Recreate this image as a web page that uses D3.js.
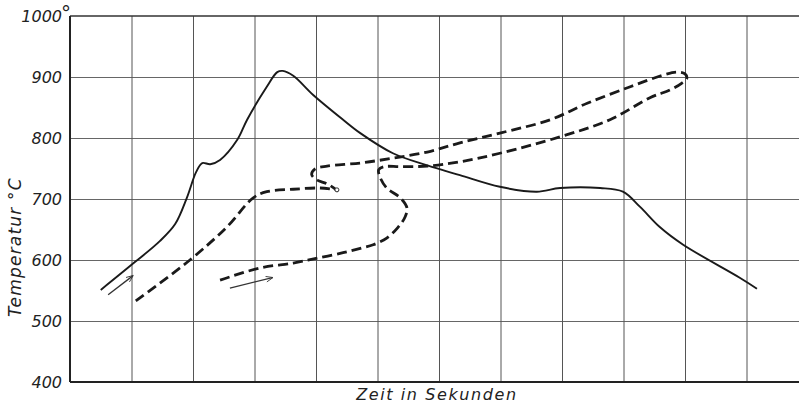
<!DOCTYPE html>
<html>
<head>
<meta charset="utf-8">
<script src="https://cdn.jsdelivr.net/npm/d3@7"></script>
<style>
  body { margin: 0; background: #fff; }
  text { font-family: "DejaVu Sans", sans-serif; font-style: italic; fill: #222; }
</style>
</head>
<body>
<div class="chart"></div>
<script>
// Temperatur-Zeit-Kurven (x in grid units, no labels on the time axis)

var yTicks = [400, 500, 600, 700, 800, 900, 1000];
var xTicks = [1, 2, 3, 4, 5, 6, 7, 8, 9, 10, 11];

// solid curve
var solidX = [0.50, 1.06, 1.46, 1.71, 1.90, 2.05, 2.15, 2.28, 2.44, 2.72, 2.88, 3.20, 3.37, 3.46, 3.63, 3.95, 4.44, 4.72, 5.25, 5.81, 6.34, 6.99, 7.59, 7.97, 8.62, 8.99, 9.27, 9.59, 9.97, 10.89, 11.17];
var solidT = [551, 597, 631, 659, 702, 744, 759, 757, 764, 797, 830, 884, 908, 910, 902, 871, 830, 808, 775, 755, 739, 720, 712, 718, 718, 712, 687, 654, 625, 571, 553];

// short dashed curve, ends in the small circle
var dashAX = [1.07, 1.95, 2.55, 2.98, 3.20, 3.63, 4.07, 4.34];
var dashAT = [533, 600, 654, 702, 712, 716, 718, 715];

// long dashed curve with the loop
var dashBX = [2.44, 3.09, 3.63, 4.02, 4.44, 4.75, 4.93, 5.15, 5.33, 5.45, 5.48, 5.37, 5.15, 5.04, 5.02, 5.11, 5.37, 5.81, 6.34, 6.99, 7.97, 8.78, 9.43, 9.76, 9.95, 10.03, 10.00, 9.87, 9.64, 9.11, 8.41, 7.81, 6.99, 6.34, 5.81, 5.25, 4.72, 4.18, 3.98, 3.93, 4.02, 4.18, 4.36];
var dashBT = [567, 587, 595, 603, 612, 620, 625, 636, 653, 671, 685, 702, 718, 736, 748, 753, 753, 754, 761, 775, 802, 830, 866, 879, 890, 898, 905, 908, 903, 884, 857, 830, 808, 792, 777, 767, 759, 754, 749, 740, 731, 725, 713];

// direction arrows [x1, T1, x2, T2]
var arrows = [[0.62, 543, 1.02, 574], [2.60, 554, 3.29, 571]];

var svgWidth = 799;
var svgHeight = 405;
var margin = { top: 16, left: 70 };
var cell = 61.5;
var plotH = 366;

var svg = d3.select(".chart")
  .append("svg")
  .attr("width", svgWidth)
  .attr("height", svgHeight);

var x = d3.scaleLinear().domain([0, 12]).range([margin.left, margin.left + 12 * cell]);
var y = d3.scaleLinear().domain([400, 1000]).range([margin.top + plotH, margin.top]);

// grid
svg.append("g")
  .attr("transform", "translate(" + margin.left + ",0)")
  .call(d3.axisLeft(y).tickValues(yTicks.slice(1, -1)).tickSize(-(svgWidth - margin.left)).tickFormat(""))
  .call(function(g) { g.select(".domain").remove(); })
  .selectAll("line").attr("stroke", "#666").attr("stroke-width", 1);

svg.append("g")
  .attr("transform", "translate(0," + (margin.top + plotH) + ")")
  .call(d3.axisBottom(x).tickValues(xTicks).tickSize(-plotH).tickFormat(""))
  .call(function(g) { g.select(".domain").remove(); })
  .selectAll("line").attr("stroke", "#555").attr("stroke-width", 1);

// frame
svg.append("line")
  .attr("x1", margin.left).attr("x2", svgWidth)
  .attr("y1", y(1000)).attr("y2", y(1000))
  .attr("stroke", "#333").attr("stroke-width", 1.5);
svg.append("line")
  .attr("x1", margin.left).attr("x2", svgWidth)
  .attr("y1", y(400)).attr("y2", y(400))
  .attr("stroke", "#222").attr("stroke-width", 2);
svg.append("line")
  .attr("x1", margin.left).attr("x2", margin.left)
  .attr("y1", y(1000)).attr("y2", y(400))
  .attr("stroke", "#222").attr("stroke-width", 2);

// tick labels
svg.selectAll(".ylab")
  .data(yTicks)
  .enter().append("text")
  .attr("class", "ylab")
  .attr("x", 62)
  .attr("y", function(d) { return y(d); })
  .attr("dy", "0.36em")
  .attr("text-anchor", "end")
  .attr("font-size", 16)
  .text(function(d) { return d; });

svg.append("text")
  .attr("x", 61)
  .attr("y", y(1000) + 4)
  .attr("font-size", 20)
  .attr("font-weight", "300")
  .text("°");

// axis titles
svg.append("text")
  .attr("transform", "translate(21,247) rotate(-90)")
  .attr("text-anchor", "middle")
  .attr("font-size", 17)
  .attr("letter-spacing", 1.2)
  .text("Temperatur °C");

svg.append("text")
  .attr("x", 437)
  .attr("y", 400)
  .attr("text-anchor", "middle")
  .attr("font-size", 16)
  .attr("letter-spacing", 1.6)
  .text("Zeit in Sekunden");

// curves
var line = d3.line()
  .x(function(d) { return x(d[0]); })
  .y(function(d) { return y(d[1]); })
  .curve(d3.curveCatmullRom.alpha(0.5));

function zip(a, b) { return a.map(function(v, i) { return [v, b[i]]; }); }

svg.append("path")
  .datum(zip(solidX, solidT))
  .attr("d", line)
  .attr("fill", "none")
  .attr("stroke", "#1a1a1a")
  .attr("stroke-width", 1.9);

[zip(dashAX, dashAT), zip(dashBX, dashBT)].forEach(function(pts) {
  svg.append("path")
    .datum(pts)
    .attr("d", line)
    .attr("fill", "none")
    .attr("stroke", "#1a1a1a")
    .attr("stroke-width", 2.8)
    .attr("stroke-dasharray", "10,5");
});

// small circle at the end of the short dashed curve
svg.append("circle")
  .attr("cx", x(dashAX[dashAX.length - 1]))
  .attr("cy", y(dashAT[dashAT.length - 1]))
  .attr("r", 2)
  .attr("fill", "#fff")
  .attr("stroke", "#333")
  .attr("stroke-width", 1);

// arrows
svg.append("defs").append("marker")
  .attr("id", "head")
  .attr("viewBox", "0 0 10 10")
  .attr("refX", 9).attr("refY", 5)
  .attr("markerWidth", 9).attr("markerHeight", 7)
  .attr("markerUnits", "userSpaceOnUse")
  .attr("orient", "auto")
  .append("path")
  .attr("d", "M0,1 L10,5 L0,9")
  .attr("fill", "none")
  .attr("stroke", "#333")
  .attr("stroke-width", 1.2);

svg.selectAll(".arrow")
  .data(arrows)
  .enter().append("line")
  .attr("class", "arrow")
  .attr("x1", function(d) { return x(d[0]); })
  .attr("y1", function(d) { return y(d[1]); })
  .attr("x2", function(d) { return x(d[2]); })
  .attr("y2", function(d) { return y(d[3]); })
  .attr("stroke", "#333")
  .attr("stroke-width", 1.3)
  .attr("marker-end", "url(#head)");
</script>
</body>
</html>
